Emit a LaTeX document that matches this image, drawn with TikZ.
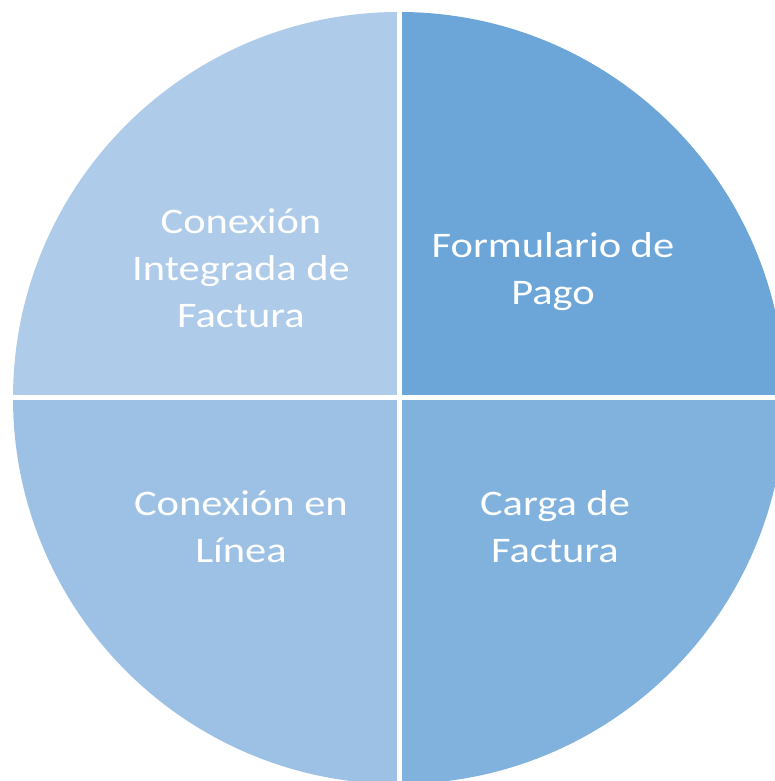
\documentclass[tikz,border=0pt]{standalone}
\usepackage{fontspec}
\setmainfont{Carlito}[FakeStretch=1.18]
\usepackage{tikz}
\usetikzlibrary{positioning}
\definecolor{sliceTL}{RGB}{174,203,233}
\definecolor{sliceTR}{RGB}{108,165,216}
\definecolor{sliceBR}{RGB}{128,178,221}
\definecolor{sliceBL}{RGB}{157,193,228}

\begin{document}
\begin{tikzpicture}[x=1pt, y=1pt,
  slicetext/.style={text=white, align=center, font=\fontsize{36}{47}\selectfont}]
\useasboundingbox (0,0) rectangle (775,781);
\clip (0,0) rectangle (775,781);
\coordinate (Center) at (399,383);
\fill[sliceTL] (Center) -- ++(180:386) arc (180:90:386) -- cycle;
\fill[sliceTR] (Center) -- ++(90:386) arc (90:0:386) -- cycle;
\fill[sliceBR] (Center) -- ++(0:386) arc (0:-90:386) -- cycle;
\fill[sliceBL] (Center) -- ++(-90:386) arc (-90:-180:386) -- cycle;
\draw[white, line width=5pt] ([xshift=-400pt]Center) -- ([xshift=400pt]Center);
\draw[white, line width=5pt] ([yshift=-400pt]Center) -- ([yshift=400pt]Center);
\node at (241,513) [slicetext, name=Integrada]{Conexión\\Integrada de\\Factura};
\node at (553,509.5) [slicetext, name=Formulario]{Formulario de\\Pago};
\node at (555,254.5) [slicetext, name=Carga]{Carga de\\Factura};
\node at (241,254.5) [slicetext, name=Linea]{Conexión en\\Línea};
\end{tikzpicture}
\end{document}
